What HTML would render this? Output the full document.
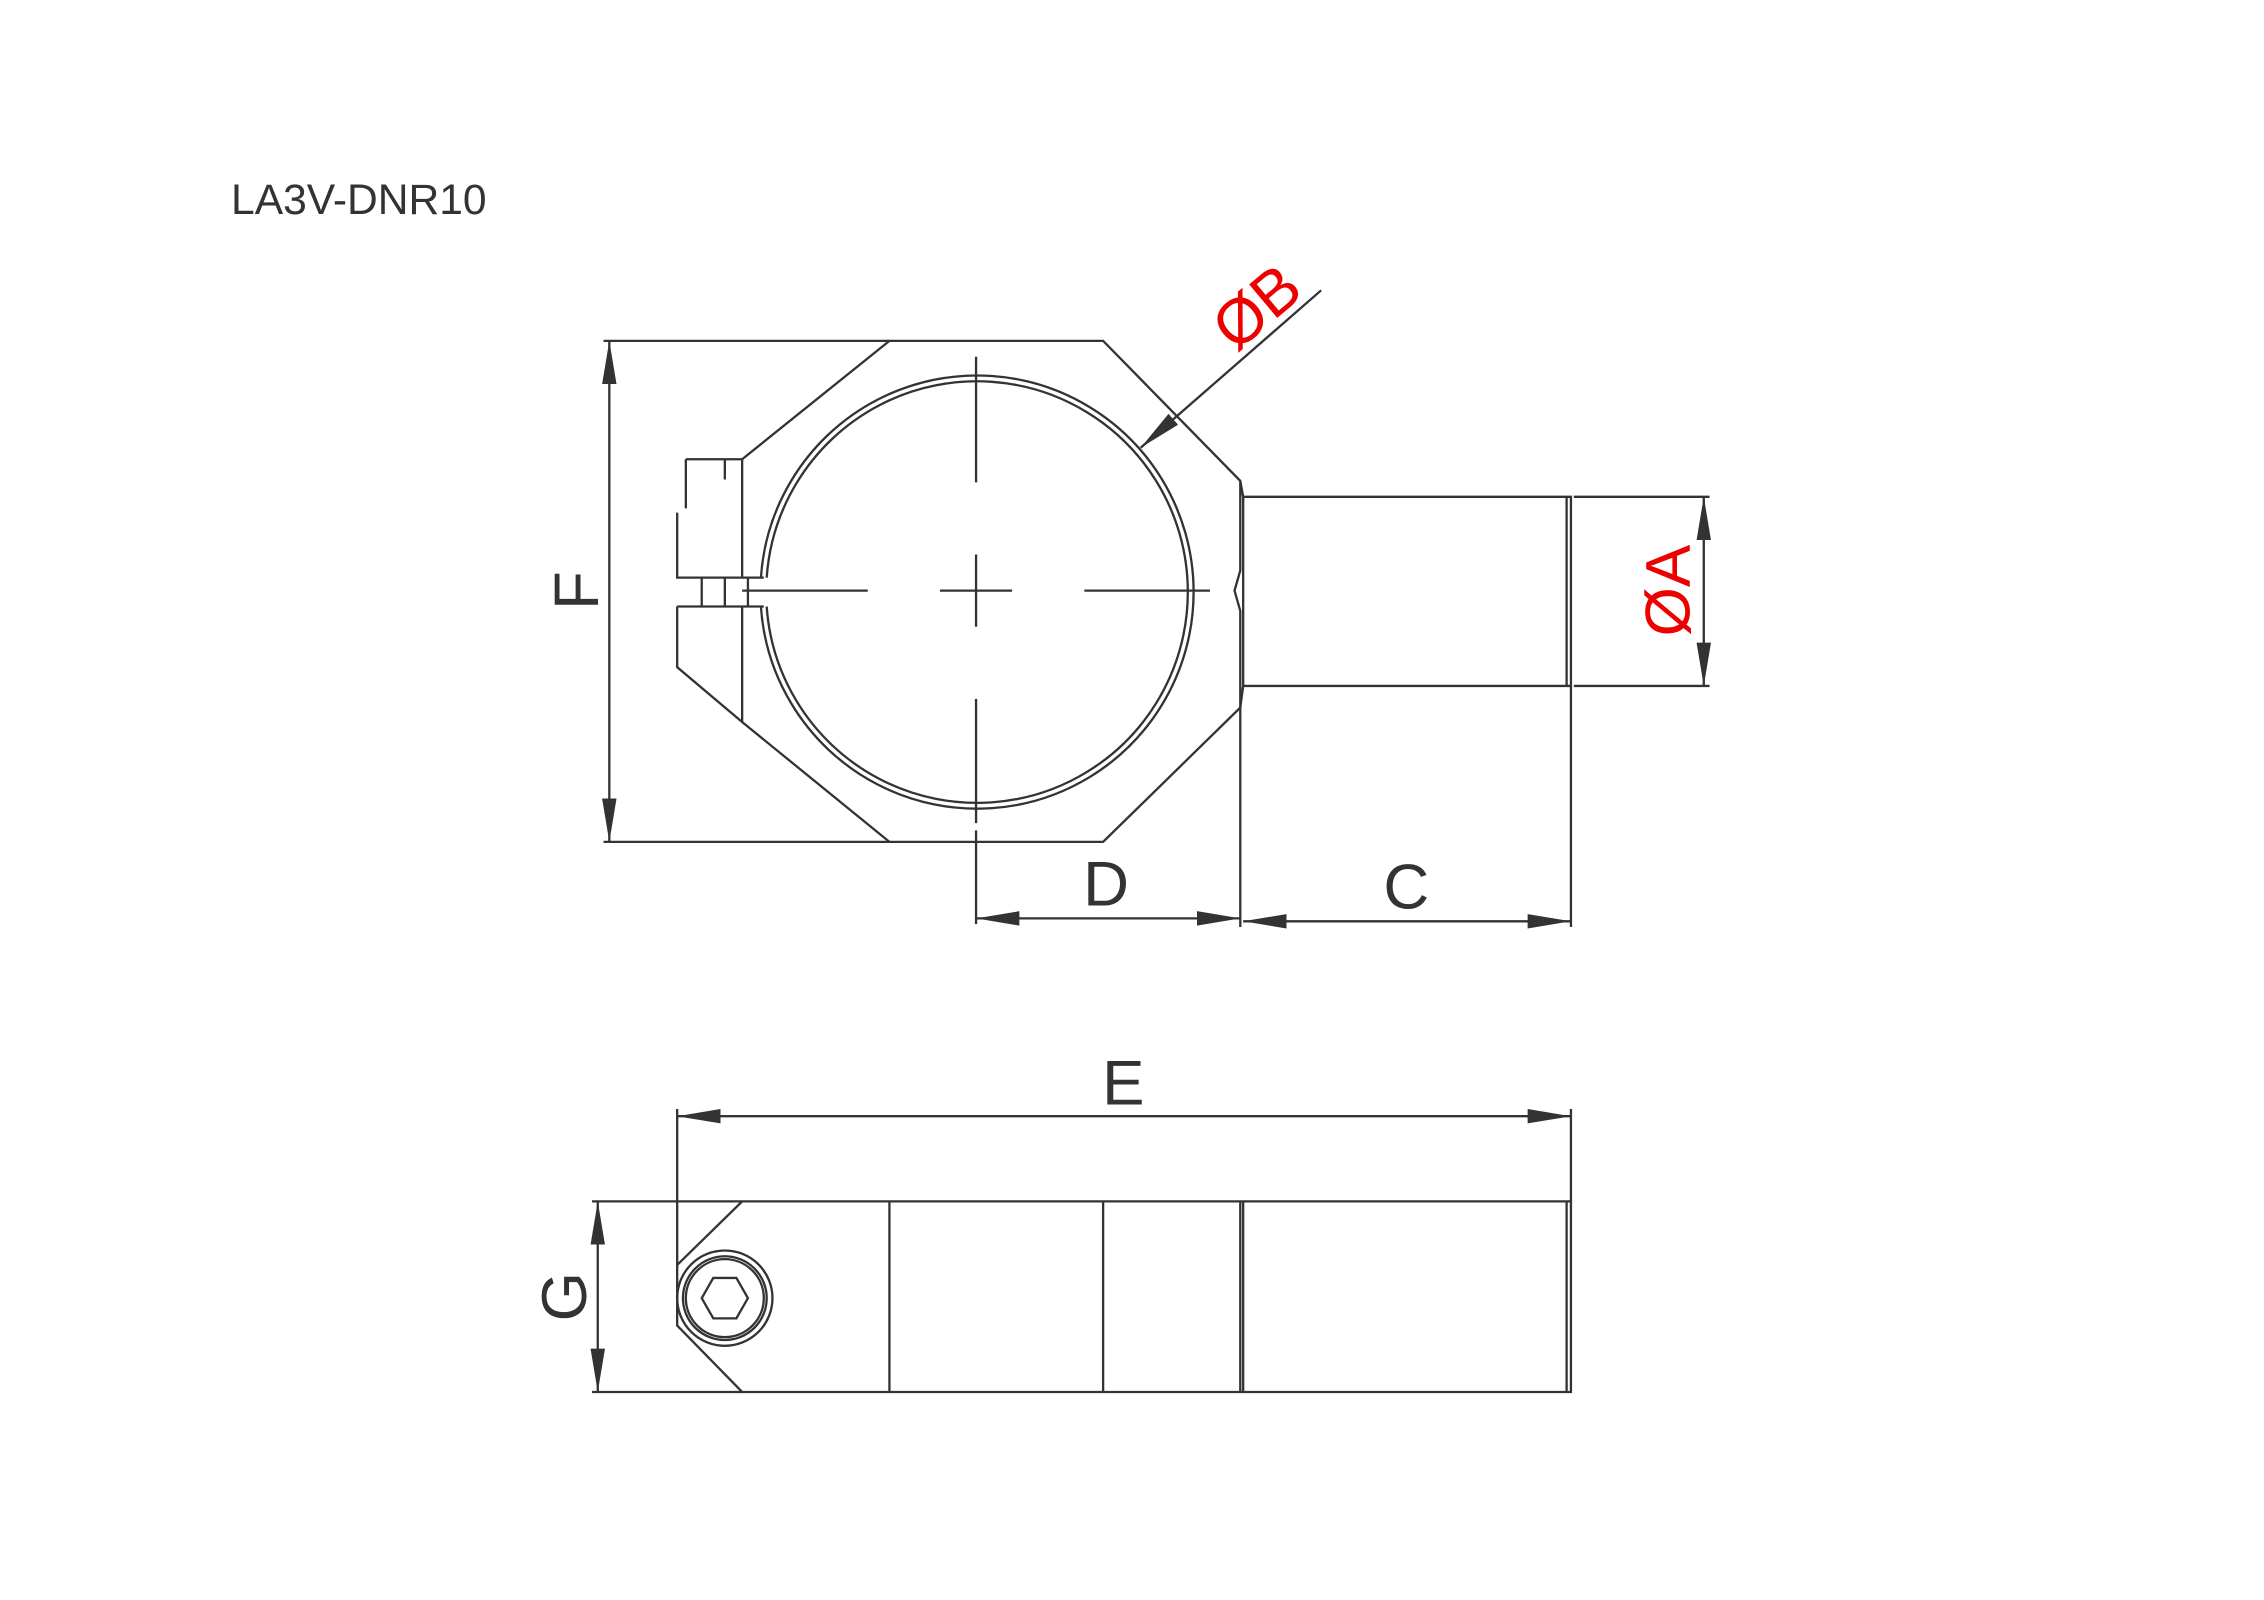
<!DOCTYPE html>
<html><head><meta charset="utf-8"><style>
html,body{margin:0;padding:0;background:#fff;}
svg{display:block;}
text{font-family:"Liberation Sans",sans-serif;}
</style></head><body>
<svg width="2264" height="1600" viewBox="0 0 1568 1108" xmlns="http://www.w3.org/2000/svg">
<defs>
<marker id="a" viewBox="0 0 30 10" refX="30" refY="5" markerWidth="30" markerHeight="10" markerUnits="userSpaceOnUse" orient="auto"><path d="M0,0 L30,5 L0,10 Z" fill="#333"/></marker>
<marker id="s" viewBox="0 0 30 10" refX="0" refY="5" markerWidth="30" markerHeight="10" markerUnits="userSpaceOnUse" orient="auto"><path d="M30,0 L0,5 L30,10 Z" fill="#333"/></marker>
</defs>
<rect width="1568" height="1108" fill="#fff"/>
<text x="160" y="148" font-size="29.5" fill="#333">LA3V-DNR10</text>
<g stroke="#333" stroke-width="1.6" fill="none">
<path d="M514,318 L616,236 L764,236 L859,333 L859,395 L855,409 L859,423 L859,490 L764,583 L616,583 L514,500"/>
<path d="M514,318 L514,400 M475,318 L514,318 M475,318 L475,352 M502,318 L502,332 M469,355 L469,400 L529,400 M469,420 L529,420 M469,420 L469,462 L514,500 L514,420 M486,400 L486,420 M502,400 L502,420 M518,400 L518,420"/>
<path d="M527,400 A150,150 0 1 1 527,420"/>
<path d="M531,400 A146,146 0 1 1 531,420"/>
<path d="M676,247 L676,334 M676,384 L676,434 M676,484 L676,570 M514,409 L601,409 M651,409 L701,409 M751,409 L838,409"/>
<path d="M861,344 L1088,344 L1088,475 L861,475 Z M1085,344 L1085,475 M859,333 L861,344 M859,490 L861,475"/>
<path d="M418,236 L616,236 M418,583 L616,583"/>
<path d="M422,236 L422,583" marker-start="url(#s)" marker-end="url(#a)"/>
<path d="M1090,344 L1184,344 M1090,475 L1184,475"/>
<path d="M1180,344 L1180,475" marker-start="url(#s)" marker-end="url(#a)"/>
<path d="M915,201 L790,310" marker-end="url(#a)"/>
<path d="M676,575 L676,640 M859,490 L859,642 M1088,475 L1088,642"/>
<path d="M676,636 L859,636" marker-start="url(#s)" marker-end="url(#a)"/>
<path d="M861,638 L1088,638" marker-start="url(#s)" marker-end="url(#a)"/>
<path d="M514,832 L1088,832 L1088,964 L514,964 L469,918 L469,876 Z M616,832 L616,964 M764,832 L764,964 M859,832 L859,964 M861,832 L861,964 M1085,832 L1085,964"/>
<circle cx="502" cy="899" r="33"/>
<circle cx="502" cy="899" r="29"/>
<circle cx="502" cy="899" r="27"/>
<path d="M486,899 L494,885 L510,885 L518,899 L510,913 L494,913 Z"/>
<path d="M469,768 L469,876 M1088,768 L1088,832"/>
<path d="M469,773 L1088,773" marker-start="url(#s)" marker-end="url(#a)"/>
<path d="M410,832 L514,832 M410,964 L514,964"/>
<path d="M414,832 L414,964" marker-start="url(#s)" marker-end="url(#a)"/>
</g>
<g font-size="44" fill="#333">
<text x="766" y="627" text-anchor="middle">D</text>
<text x="974" y="629" text-anchor="middle">C</text>
<text x="778" y="765" text-anchor="middle">E</text>
<text transform="translate(414,409) rotate(-90)" text-anchor="middle">F</text>
<text transform="translate(406,898) rotate(-90)" text-anchor="middle">G</text>
</g>
<g font-size="44" fill="#e00">
<text transform="translate(1170,409) rotate(-90)" text-anchor="middle">ØA</text>
<text transform="translate(880,224) rotate(-40)" text-anchor="middle">ØB</text>
</g>
</svg>
</body></html>
